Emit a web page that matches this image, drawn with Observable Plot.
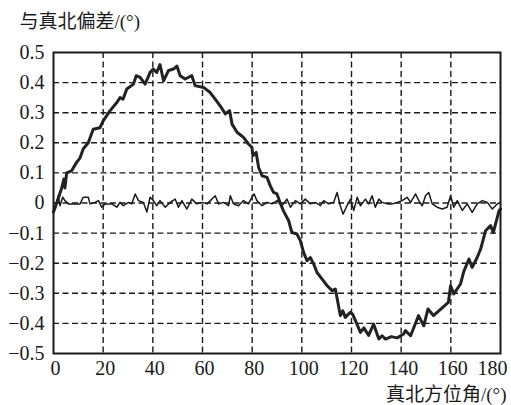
<!DOCTYPE html>
<html>
<head>
<meta charset="utf-8">
<script src="https://cdn.jsdelivr.net/npm/d3@7"></script>
<script src="https://cdn.jsdelivr.net/npm/@observablehq/plot@0.6"></script>
<style>
  html, body { margin: 0; padding: 0; background: #fff; }
  #chart svg, #chart svg text {
    font-family: "Liberation Serif", "Noto Sans CJK SC", serif !important;
  }
</style>
</head>
<body>
<div id="chart"></div>
<script>
// ---- data ----
const xTicks = [0, 20, 40, 60, 80, 100, 120, 140, 160, 180];
const yTicks = [-0.5, -0.4, -0.3, -0.2, -0.1, 0, 0.1, 0.2, 0.3, 0.4, 0.5];
const yTitle = "与真北偏差/(°)";
const xTitle = "真北方位角/(°)";

// thick curve: deviation before compensation
const rawAngle = [0, 1.3, 2.5, 3.3, 4.2, 4.6, 5.3, 7.3, 9.3, 10.7, 12, 14, 16, 18.7, 20, 22.8, 25.5, 26.8, 28, 29.5, 32.2, 33.3, 34.9, 36.9, 38.9, 40.2, 41.6, 42.9, 44.3, 46.3, 48.3, 49.7, 51, 53, 55.7, 57, 60.4, 63.1, 65.1, 67.1, 69.2, 70.9, 71.9, 73.9, 76.5, 78.5, 79.9, 80.3, 81.6, 82.6, 84, 86, 87.3, 88.6, 90, 91.3, 92.6, 94.7, 96, 98, 99.4, 100.7, 102.1, 103.4, 104.8, 106.1, 108.1, 110.2, 112.2, 113.5, 115.5, 116.5, 117.5, 119.5, 120.5, 123.6, 125, 126.9, 128.9, 131, 132.3, 133.7, 136, 138.4, 141, 141.7, 143.8, 147, 149.1, 150.8, 153, 159, 159.9, 161.2, 163.9, 165.2, 167.3, 168.6, 170.6, 172, 174, 176, 177.1, 179.4, 180];
const rawDev = [-0.03, 0.0, 0.03, 0.05, 0.08, 0.05, 0.1, 0.107, 0.135, 0.15, 0.18, 0.2, 0.245, 0.25, 0.273, 0.307, 0.334, 0.35, 0.345, 0.379, 0.395, 0.423, 0.417, 0.395, 0.434, 0.445, 0.434, 0.46, 0.406, 0.44, 0.445, 0.455, 0.423, 0.412, 0.423, 0.39, 0.384, 0.367, 0.345, 0.323, 0.296, 0.307, 0.262, 0.235, 0.218, 0.196, 0.185, 0.157, 0.168, 0.118, 0.09, 0.085, 0.057, 0.035, 0.03, 0.0, -0.026, -0.059, -0.098, -0.103, -0.125, -0.164, -0.192, -0.181, -0.203, -0.231, -0.252, -0.275, -0.291, -0.286, -0.374, -0.358, -0.38, -0.363, -0.37, -0.43, -0.415, -0.44, -0.402, -0.452, -0.441, -0.452, -0.444, -0.448, -0.435, -0.424, -0.441, -0.374, -0.408, -0.352, -0.374, -0.33, -0.275, -0.302, -0.269, -0.228, -0.186, -0.214, -0.181, -0.153, -0.092, -0.075, -0.098, -0.026, -0.02];

// thin curve: deviation after compensation
const compAngle = [0, 0.6, 1.9, 2.6, 3.7, 4.6, 6.0, 8.0, 10.7, 12.0, 14.0, 14.7, 16.7, 18.1, 19.4, 20.8, 23.5, 25.5, 26.8, 28.1, 30.2, 31.5, 32.9, 34.2, 36.2, 37.6, 38.9, 40.2, 41.6, 42.9, 45.0, 47.0, 49.0, 50.3, 51.7, 53.7, 55.7, 57.7, 59.8, 61.8, 63.8, 65.1, 66.5, 68.5, 70.5, 71.2, 72.5, 74.5, 76.5, 78.5, 79.9, 80.8, 81.9, 84.0, 86.0, 88.0, 90.0, 92.0, 94.0, 95.4, 97.4, 99.4, 101.4, 103.4, 105.4, 107.5, 108.8, 110.8, 112.8, 114.2, 115.5, 116.6, 117.9, 119.6, 120.9, 122.3, 123.6, 125.6, 126.9, 128.3, 129.6, 131.0, 132.3, 134.4, 136.4, 138.4, 140.4, 142.4, 143.8, 145.8, 147.1, 148.5, 149.8, 151.1, 152.5, 154.5, 156.5, 158.5, 159.9, 161.2, 162.6, 164.6, 166.6, 168.6, 170.6, 172.7, 174.7, 176.7, 178.7, 180];
const compDev = [-0.025, -0.02, 0.024, -0.009, 0.019, 0.008, -0.003, -0.003, -0.003, 0.019, 0.019, -0.003, 0.002, 0.008, -0.014, -0.003, -0.003, -0.014, 0.002, -0.009, 0.002, -0.003, 0.03, 0.008, 0.002, -0.03, 0.019, 0.008, -0.009, 0.008, -0.014, 0.002, 0.013, -0.014, 0.008, -0.02, 0.013, -0.003, 0.002, -0.003, 0.013, 0.024, -0.003, 0.002, -0.009, 0.024, -0.003, -0.009, 0.008, -0.003, 0.019, 0.03, 0.008, -0.009, 0.002, -0.003, 0.008, -0.009, 0.013, -0.014, 0.008, -0.003, 0.013, -0.003, 0.002, -0.009, 0.008, -0.003, 0.002, 0.035, -0.009, -0.037, -0.014, 0.013, -0.025, 0.019, -0.009, 0.013, -0.003, 0.024, -0.014, 0.013, 0.002, -0.003, -0.003, 0.002, 0.008, 0.019, 0.002, 0.03, 0.008, -0.009, 0.024, 0.035, -0.003, -0.014, -0.02, -0.014, 0.024, -0.014, 0.008, -0.025, -0.003, -0.031, -0.003, 0.008, 0.002, -0.02, -0.003, 0.002];

const rawData = rawAngle.map((a, i) => ({a, v: rawDev[i]}));
const compData = compAngle.map((a, i) => ({a, v: compDev[i]}));

const fmtY = d => d === 0 ? "0" : d.toFixed(1).replace("-", "\u2212");
const dash = "6,3.5";
const ink = "#1a1a1a";

const chart = Plot.plot({
  width: 511,
  height: 405,
  marginLeft: 53,
  marginRight: 11,
  marginTop: 52,
  marginBottom: 52,
  style: {
    fontFamily: "'Liberation Serif', 'Noto Sans CJK SC', serif",
    fontSize: "19px",
    color: ink,
    background: "#fff"
  },
  x: {domain: [0, 180]},
  y: {domain: [-0.5, 0.5]},
  marks: [
    Plot.gridX(xTicks.filter(d => d > 0 && d < 180), {stroke: ink, strokeOpacity: 1, strokeWidth: 1.4, strokeDasharray: dash}),
    Plot.gridY(yTicks.filter(d => d > -0.5 && d < 0.5), {stroke: ink, strokeOpacity: 1, strokeWidth: 1.4, strokeDasharray: dash}),
    Plot.line(compData, {x: "a", y: "v", stroke: ink, strokeWidth: 1.5}),
    Plot.line(rawData, {x: "a", y: "v", stroke: "#222", strokeWidth: 3}),
    Plot.frame({stroke: ink, strokeWidth: 2}),
    Plot.axisX(xTicks.filter(d => d < 180), {tickSize: 0, tickPadding: 7, dx: 2, label: null, fill: ink, fontSize: 20}),
    Plot.axisX([180], {tickSize: 0, tickPadding: 7, dx: -8, label: null, fill: ink, fontSize: 20}),
    Plot.axisY(yTicks, {tickSize: 0, tickPadding: 9, tickFormat: fmtY, label: null, fill: ink, fontSize: 20}),
    Plot.text([yTitle], {frameAnchor: "top-left", textAnchor: "start", lineAnchor: "middle", dx: -34, dy: -31, fill: ink, fontSize: 19}),
    Plot.text([xTitle], {frameAnchor: "bottom-right", textAnchor: "end", lineAnchor: "middle", dx: 6, dy: 41, fill: ink, fontSize: 19})
  ]
});
document.getElementById("chart").appendChild(chart);
</script>
</body>
</html>
